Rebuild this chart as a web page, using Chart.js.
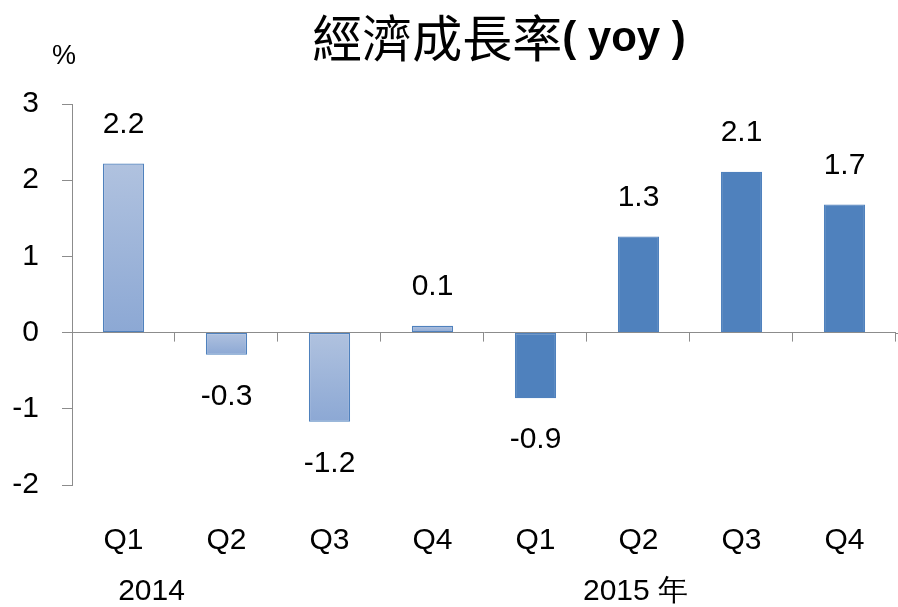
<!DOCTYPE html>
<html>
<head>
<meta charset="utf-8">
<script src="https://cdn.jsdelivr.net/npm/chart.js@4"></script>
<style>
html,body{margin:0;padding:0;background:#fff;}
#wrap{width:898px;height:607px;position:relative;}
</style>
</head>
<body>
<div id="wrap"><canvas id="c" width="898" height="607"></canvas></div>
<script>
const categories = ['Q1','Q2','Q3','Q4','Q1','Q2','Q3','Q4'];
const yearLabels = ['2014','2015 年'];
const yearStartIndex = [0, 5];
const values = [2.22, -0.29, -1.17, 0.09, -0.86, 1.26, 2.11, 1.68];
const seriesYear = [2014,2014,2014,2014,2015,2015,2015,2015];
const titleCJK = '經濟成長率';
const titleLatin = '( yoy )';
const unitLabel = '%';

const GRAY = '#8c8c8c';
const FONT = "'Liberation Sans', Arial, sans-serif";

function barFill(ctx) {
  const i = ctx.dataIndex;
  if (seriesYear[i] === 2015) return '#4f81bd';
  const chart = ctx.chart;
  const ys = chart.scales.y;
  if (!ys || ys.top === undefined || isNaN(ys.getPixelForValue(0))) return '#9fb4da';
  const v = values[i];
  const top = ys.getPixelForValue(Math.max(v, 0));
  const bot = ys.getPixelForValue(Math.min(v, 0));
  if (!isFinite(top) || !isFinite(bot) || top === bot) return '#9fb4da';
  const g = chart.ctx.createLinearGradient(0, top, 0, bot);
  g.addColorStop(0, '#b0c2df');
  g.addColorStop(1, '#8ca8d4');
  return g;
}

const decor = {
  id: 'decor',
  afterDatasetsDraw(chart) {
    const c = chart.ctx;
    const xs = chart.scales.x, ys = chart.scales.y;
    const zero = ys.getPixelForValue(0);
    c.save();
    c.strokeStyle = GRAY;
    c.lineWidth = 1;
    c.beginPath();
    c.moveTo(chart.chartArea.right, Math.round(zero) + 0.5);
    c.lineTo(chart.width, Math.round(zero) + 0.5);
    c.stroke();
    for (let i = 0; i < categories.length; i++) {
      const nxt = i < categories.length - 1 ? xs.getPixelForValue(i + 1) : xs.right + (xs.right - xs.getPixelForValue(i));
      const xp = Math.round((xs.getPixelForValue(i) + nxt) / 2) - 0.5;
      c.beginPath();
      c.moveTo(xp, zero);
      c.lineTo(xp, zero + 9);
      c.stroke();
    }
    c.fillStyle = '#000';
    c.font = '30px ' + FONT;
    c.textAlign = 'center';
    c.textBaseline = 'middle';
    const meta = chart.getDatasetMeta(0);
    meta.data.forEach((bar, i) => {
      const v = values[i];
      const txt = v.toFixed(1);
      if (v >= 0) c.fillText(txt, bar.x, bar.y - 39);
      else c.fillText(txt, bar.x, bar.y + 42);
    });
    c.fillText(yearLabels[0], xs.getPixelForValue(yearStartIndex[0]) + 28, 592);
    c.fillText(yearLabels[1], xs.getPixelForValue(yearStartIndex[1]) - 3, 592);
    c.font = '27px ' + FONT;
    c.fillText(unitLabel, ys.right - 8, chart.chartArea.top - 47);
    const f1 = "50px 'Noto Sans CJK TC', sans-serif";
    const f2 = "bold 42px " + FONT;
    c.font = f1; const w1 = c.measureText(titleCJK).width;
    c.font = f2; const w2 = c.measureText(titleLatin).width;
    const cx = 499, cy = 38;
    let x0 = cx - (w1 + w2) / 2;
    c.textAlign = 'left';
    c.font = f1; c.fillText(titleCJK, x0, cy);
    c.font = f2; c.fillText(titleLatin, x0 + w1, cy + 1);
    c.restore();
  }
};

new Chart(document.getElementById('c'), {
  type: 'bar',
  data: {
    labels: categories,
    datasets: [{
      data: values,
      backgroundColor: barFill,
      borderColor: (ctx) => seriesYear[ctx.dataIndex] === 2015 ? '#4f81bd' : '#4f81bd',
      borderWidth: 1.2,
      borderSkipped: false,
      barPercentage: 0.40,
      categoryPercentage: 1.0
    }]
  },
  plugins: [decor],
  options: {
    responsive: false,
    animation: false,
    devicePixelRatio: 1,
    layout: { padding: { top: 104, left: 0, right: 2, bottom: 0 } },
    plugins: { legend: { display: false }, title: { display: false }, tooltip: { enabled: false } },
    scales: {
      x: {
        grid: { display: true, drawOnChartArea: false, drawTicks: true, tickLength: 34, color: 'rgba(0,0,0,0)', tickColor: 'rgba(0,0,0,0)' },
        border: { display: false },
        ticks: { color: '#000', font: { size: 30, family: FONT }, padding: 4, maxRotation: 0 },
        afterFit(s) { s.height = 122; }
      },
      y: {
        min: -2, max: 3,
        border: { display: true, color: GRAY, width: 1 },
        grid: {
          color: (ctx) => (ctx.tick && ctx.tick.value === 0) ? GRAY : 'rgba(0,0,0,0)',
          tickColor: GRAY,
          tickLength: 10,
          drawOnChartArea: true,
          lineWidth: 1
        },
        ticks: { stepSize: 1, color: '#000', font: { size: 30, family: FONT }, padding: 23 },
        afterFit(s) { s.width = 72; }
      }
    }
  }
});
</script>
</body>
</html>
